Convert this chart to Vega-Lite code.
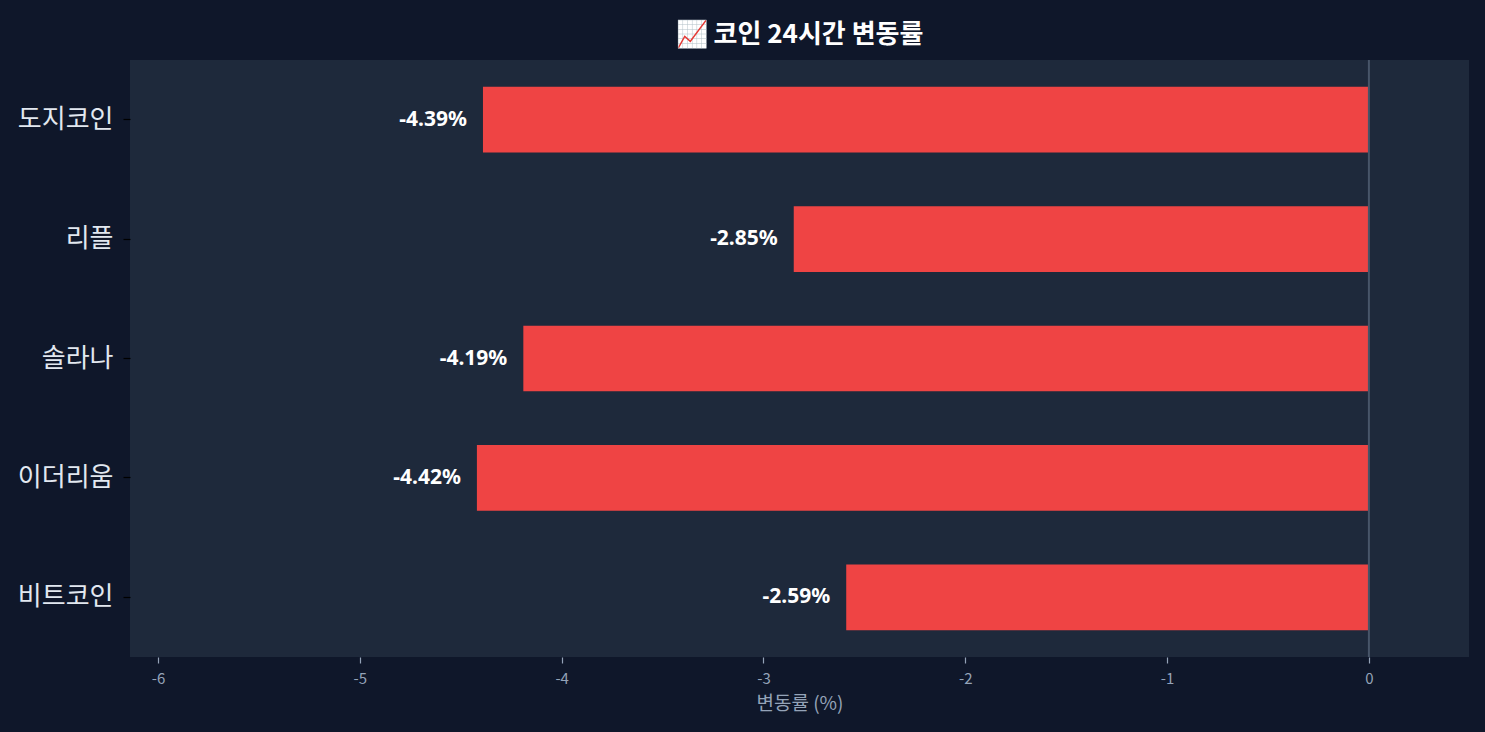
{
  "$schema": "https://vega.github.io/schema/vega-lite/v6.json",
  "description": "Coin 24h change rate, horizontal bars.",
  "autosize": {"type": "none"},
  "padding": {"left": 130, "top": 60, "right": 16, "bottom": 75},
  "width": 1339,
  "height": 597,
  "background": "#0f172a",
  "title": {
    "text": "📈 코인 24시간 변동률",
    "font": "Noto Sans CJK KR",
    "fontSize": 26,
    "fontWeight": "bold",
    "color": "#ffffff",
    "anchor": "middle",
    "offset": 11
  },
  "config": {
    "view": {"fill": "#1e293b", "stroke": null},
    "font": "Noto Sans CJK KR"
  },
  "data": {
    "values": [
      {"coin": "도지코인", "change": -4.39},
      {"coin": "리플", "change": -2.85},
      {"coin": "솔라나", "change": -4.19},
      {"coin": "이더리움", "change": -4.42},
      {"coin": "비트코인", "change": -2.59}
    ]
  },
  "encoding": {
    "y": {
      "field": "coin",
      "type": "nominal",
      "sort": null,
      "title": null,
      "scale": {"paddingInner": 0.45, "paddingOuter": 0.225},
      "axis": {
        "domain": false,
        "labelColor": "#e2e8f0",
        "labelFontSize": 26,
        "labelFont": "Noto Sans CJK KR",
        "labelPadding": 10,
        "tickColor": "#000000",
        "tickSize": 7,
        "tickWidth": 1.2
      }
    },
    "x": {
      "field": "change",
      "type": "quantitative",
      "title": "변동률 (%)",
      "scale": {"domain": [-6.139, 0.496], "nice": false, "zero": false},
      "axis": {
        "values": [-6, -5, -4, -3, -2, -1, 0],
        "labelExpr": "replace(datum.label, '−', '-')",
        "grid": false,
        "domain": false,
        "labelColor": "#94a3b8",
        "labelFontSize": 15,
        "labelPadding": 8,
        "tickColor": "#94a3b8",
        "tickSize": 6,
        "tickWidth": 1.2,
        "titleColor": "#94a3b8",
        "titleFontSize": 19,
        "titleFontWeight": "normal",
        "titlePadding": 8
      }
    }
  },
  "layer": [
    {
      "mark": {"type": "bar", "color": "#ef4444"}
    },
    {
      "transform": [
        {"calculate": "replace(format(datum.change, '.2f'), '−', '-') + '%'", "as": "label"}
      ],
      "mark": {
        "type": "text",
        "align": "right",
        "baseline": "middle",
        "dx": -16,
        "color": "#ffffff",
        "font": "Noto Sans",
        "fontSize": 21,
        "fontWeight": "bold"
      },
      "encoding": {
        "text": {"field": "label", "type": "nominal"}
      }
    },
    {
      "data": {"values": [{"zero": 0}]},
      "mark": {"type": "rule", "color": "#475569", "strokeWidth": 2},
      "encoding": {
        "x": {"field": "zero", "type": "quantitative"},
        "y": null
      }
    }
  ]
}
